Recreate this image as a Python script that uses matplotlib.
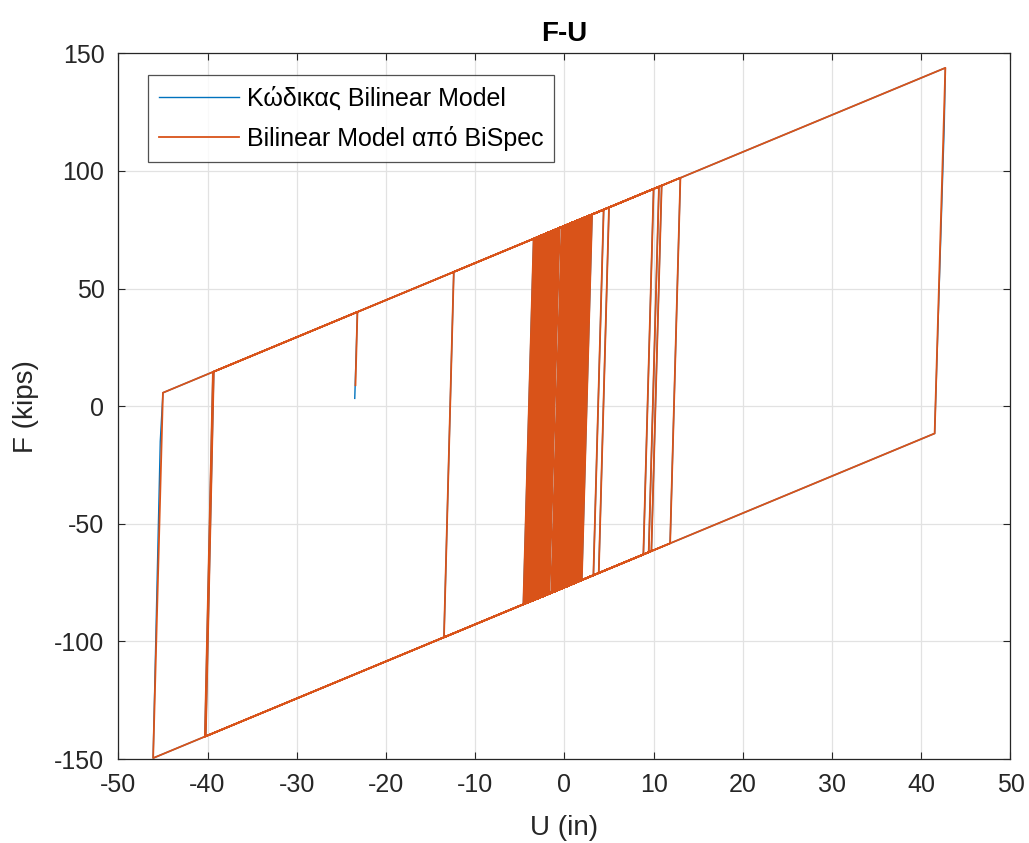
import numpy as np
import matplotlib as mpl
mpl.use('Agg')
import matplotlib.pyplot as plt

mpl.rc('font', family=['Liberation Sans', 'DejaVu Sans'], size=18)
mpl.rcParams['axes.unicode_minus'] = False

# path vertices (U in inches, F in kips), BiSpec curve
U_bispec = [0.0, 0.55, 1.2, 0.05, -2.0, -0.85, 2.4, 1.25, -3.1, -1.95,
            1.8, 0.65, -1.2, -0.05, 3.1, 1.95, -4.0, -2.85, 0.9, -0.25,
            -2.6, -1.45, 2.9, 1.75, -3.6, -2.45, -0.3, -1.45, -2.3, -1.15,
            2.0, 0.85, -3.4, -2.25, 1.5, 0.35, -0.9, 0.05, -0.9, -1.9,
            -0.75, 2.6, 1.45, -1.7, -0.55, 3.0, 1.85, -4.3, -3.15, 0.2,
            -0.95, -3.0, -1.85, 1.0, -0.15, -2.8, -1.65, 2.2, 1.05, -1.0,
            0.15, 0.7, -0.45, -3.8, -2.65, -1.0, -2.15, -4.6, -3.45,
            1.3, 0.15, -3.3, -2.15, 2.7, 1.55, -2.4, -1.25, 0.0, -1.15,
            -4.1, -2.95, 1.7, 0.55, -1.4, -0.25, 2.3, 1.15, -3.7, -2.55,
            0.5, -0.65, -2.1, -0.95, 2.8, 1.65, -0.5, 0.65, 1.9, 0.75,
            -2.9, -1.75, 0.3, -0.85, -3.5, -2.35, -0.6, -1.75, -4.2, -3.05,
            2.5, 1.35, -1.1, 0.05, 1.1, -0.05, -2.7, -1.55, -0.8, -1.95,
            -3.2, -2.05,
            4.4, 3.25, -2.2, -1.05, 10.0, 8.85, -4.4, -3.25, 5.0, 3.85,
            -3.9, -2.75, 10.6, 9.45, -13.5, -12.4, 13.0, 11.85, -40.3, -39.4,
            10.9, 9.75, -40.2, -39.3, 42.7, 41.5, -46.1, -45.0, -23.2, -23.42]
F_bispec = [0.0, 77.5, 78.5, -76.9, -80.2, 75.3, 80.4, -75.0, -81.9, 73.5,
            79.4, -76.0, -78.9, 76.5, 81.5, -73.9, -83.3, 72.1, 78.0, -77.4,
            -81.1, 74.3, 81.2, -74.2, -82.7, 72.7, 76.1, -79.3, -80.6, 74.8,
            79.8, -75.7, -82.4, 73.1, 79.0, -76.4, -78.4, 56.5, -78.4, -80.0,
            75.4, 80.7, -74.7, -79.7, 75.7, 81.3, -74.1, -83.8, 71.6, 76.9,
            -78.5, -81.7, 73.7, 78.2, -77.2, -81.4, 74.0, 80.1, -75.3, -78.6,
            76.8, 77.7, -77.7, -83.0, 72.4, 75.0, -80.4, -84.2, 71.2,
            78.6, -76.8, -82.2, 73.2, 80.9, -74.6, -80.8, 74.6, 76.6, -78.8,
            -83.5, 72.0, 79.3, -76.1, -79.2, 76.2, 80.2, -75.2, -82.8, 72.6,
            77.4, -78.0, -80.3, 75.1, 81.0, -74.4, -77.8, 77.6, 79.6, -75.8,
            -81.6, 73.8, 77.1, -78.3, -82.5, 72.9, 75.7, -79.8, -83.6, 71.8,
            80.5, -74.9, -78.7, 76.7, 78.3, -77.1, -81.3, 74.2, 75.3, -80.1,
            -82.0, 73.4,
            83.5, -71.9, -80.5, 74.9, 92.4, -63.1, -83.9, 71.5, 84.5, -70.9,
            -83.1, 72.3, 93.3, -62.1, -98.3, 57.1, 97.1, -58.3, -140.5, 14.5,
            93.8, -61.6, -140.3, 14.7, 143.8, -11.6, -149.6, 5.7, 40.1, 8.9]

# own code: same path, small differences on the big unload/reload and the final unload
n = len(U_bispec)
U_code = U_bispec[:n-5] + [42.58] + U_bispec[n-5:n-3] + [-45.3] + U_bispec[n-3:n-1] + [-23.5]
F_code = F_bispec[:n-5] + [120.0] + F_bispec[n-5:n-3] + [-15.0] + F_bispec[n-3:n-1] + [3.3]

fig = plt.figure(figsize=(10.29, 8.43), dpi=100)
ax = fig.add_axes([0.115, 0.0996, 0.867, 0.8372])

ax.plot(U_code, F_code, color='#0072BD', lw=1.0, label='Κώδικας Bilinear Model')
ax.plot(U_bispec, F_bispec, color='#D95319', lw=1.3, label='Bilinear Model από BiSpec')

ax.set_xlim(-50, 50)
ax.set_ylim(-150, 150)
ax.set_xticks(np.arange(-50, 51, 10))
ax.set_yticks(np.arange(-150, 151, 50))
ax.grid(True, color='#e2e2e2', lw=0.9)
ax.set_axisbelow(True)
ax.tick_params(direction='in', top=True, right=True, colors='#262626', labelsize=18, length=5)
ax.tick_params(axis='x', pad=10)
ax.tick_params(axis='y', pad=10)
for s in ax.spines.values():
    s.set_color('#262626')
    s.set_linewidth(0.9)

ax.set_xlabel('U (in)', fontsize=20, color='#262626', labelpad=13)
ax.set_ylabel('F (kips)', fontsize=20, color='#262626', labelpad=11)
ax.set_title('F-U', fontsize=20, fontweight='bold', pad=9)

leg = ax.legend(loc='upper left', bbox_to_anchor=(0.033, 0.969), borderaxespad=0,
                fancybox=False, edgecolor='#262626', fontsize=18, handlelength=3.2,
                borderpad=0.45, labelspacing=0.6, handletextpad=0.3)
leg.get_frame().set_linewidth(0.9)

plt.savefig('out.png', dpi=100)
